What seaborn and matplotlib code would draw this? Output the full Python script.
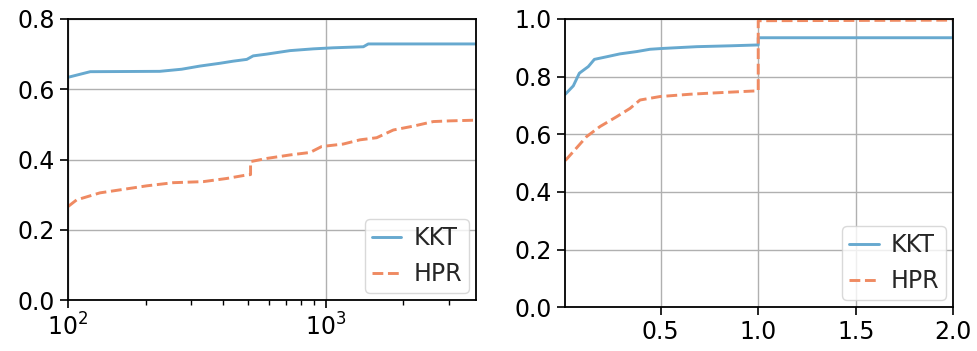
import numpy as np
import pandas as pd
import matplotlib
matplotlib.use("Agg")
import matplotlib.pyplot as plt
import seaborn as sns

# Left panel: cumulative fraction solved vs. time (log scale)
time_kkt = [100, 122, 227, 276, 325, 389, 438, 494, 523, 590, 727, 895, 1070, 1400, 1463, 3830]
frac_kkt = [0.634, 0.650, 0.651, 0.657, 0.666, 0.674, 0.680, 0.685, 0.695, 0.700, 0.710, 0.715, 0.718, 0.721, 0.729, 0.729]

time_hpr = [100, 108, 133, 164, 202, 256, 335, 413, 494, 511, 511, 590, 727, 869, 965, 1170, 1358, 1577, 1830, 2188, 2616, 3035, 3830]
frac_hpr = [0.266, 0.285, 0.305, 0.315, 0.325, 0.334, 0.337, 0.346, 0.356, 0.357, 0.394, 0.403, 0.413, 0.420, 0.437, 0.444, 0.456, 0.462, 0.484, 0.495, 0.508, 0.510, 0.512]

# Right panel: cumulative fraction vs. ratio
ratio_kkt = [0.011, 0.052, 0.083, 0.129, 0.160, 0.223, 0.291, 0.377, 0.445, 0.513, 0.685, 0.855, 1.0, 1.0, 2.0, 2.0]
share_kkt = [0.739, 0.768, 0.812, 0.835, 0.860, 0.869, 0.879, 0.887, 0.895, 0.898, 0.904, 0.907, 0.910, 0.935, 0.935, 1.0]

ratio_hpr = [0.011, 0.052, 0.120, 0.189, 0.274, 0.343, 0.394, 0.496, 0.650, 0.787, 1.0, 1.0, 2.0]
share_hpr = [0.509, 0.540, 0.592, 0.627, 0.661, 0.690, 0.719, 0.731, 0.739, 0.744, 0.751, 0.994, 0.996]

methods = ["KKT", "HPR"]
colors = {"KKT": "#67a9cf", "HPR": "#ef8a62"}

sns.set_theme(style="ticks", rc={
    "axes.grid": True,
    "grid.color": "#b0b0b0",
    "grid.linewidth": 1.0,
    "axes.edgecolor": "black",
    "axes.linewidth": 1.3,
    "xtick.color": "black",
    "ytick.color": "black",
    "xtick.major.size": 6,
    "ytick.major.size": 6,
    "xtick.minor.size": 3.5,
    "xtick.major.width": 1.2,
    "ytick.major.width": 1.2,
    "xtick.minor.width": 1.0,
    "font.size": 17,
    "xtick.labelsize": 17,
    "ytick.labelsize": 17,
    "legend.fontsize": 17,
})
plt.rcParams["font.family"] = ["DejaVu Sans"]

left_df = pd.concat([
    pd.DataFrame({"x": time_kkt, "y": frac_kkt, "method": "KKT"}),
    pd.DataFrame({"x": time_hpr, "y": frac_hpr, "method": "HPR"}),
])
right_df = pd.concat([
    pd.DataFrame({"x": ratio_kkt, "y": share_kkt, "method": "KKT"}),
    pd.DataFrame({"x": ratio_hpr, "y": share_hpr, "method": "HPR"}),
])

W, H = 977, 351
fig = plt.figure(figsize=(W / 100, H / 100), dpi=100)
ax1 = fig.add_axes([68 / W, (H - 300) / H, 408 / W, 281 / H])
ax2 = fig.add_axes([565.3 / W, (H - 307.3) / H, 388 / W, 288.3 / H])

for ax, df in [(ax1, left_df), (ax2, right_df)]:
    sns.lineplot(data=df, x="x", y="y", hue="method", style="method",
                 hue_order=methods, style_order=methods, palette=colors,
                 dashes={"KKT": "", "HPR": (3.7, 1.6)},
                 estimator=None, sort=False, linewidth=2.1, ax=ax)
    ax.set_xlabel("")
    ax.set_ylabel("")
    leg = ax.legend(loc="lower right", handlelength=1.25, handletextpad=0.5,
                    borderpad=0.3, borderaxespad=0.3,
                    frameon=True, fancybox=True)
    leg.get_frame().set_edgecolor("#d0d0d0")

ax1.set_xscale("log")
ax1.set_xlim(100, 3830)
ax1.set_ylim(0, 0.8)
ax1.set_yticks([0.0, 0.2, 0.4, 0.6, 0.8])
ax1.grid(True, which="major")
ax1.grid(False, which="minor")

ax2.set_xlim(0.011, 2.0)
ax2.set_ylim(0, 1.0)
ax2.set_xticks([0.5, 1.0, 1.5, 2.0])
ax2.set_yticks([0.0, 0.2, 0.4, 0.6, 0.8, 1.0])

for ax in (ax1, ax2):
    ax.tick_params(direction="out", which="both")
    for s in ax.spines.values():
        s.set_visible(True)
        s.set_color("black")

fig.savefig("out.png", dpi=100)
